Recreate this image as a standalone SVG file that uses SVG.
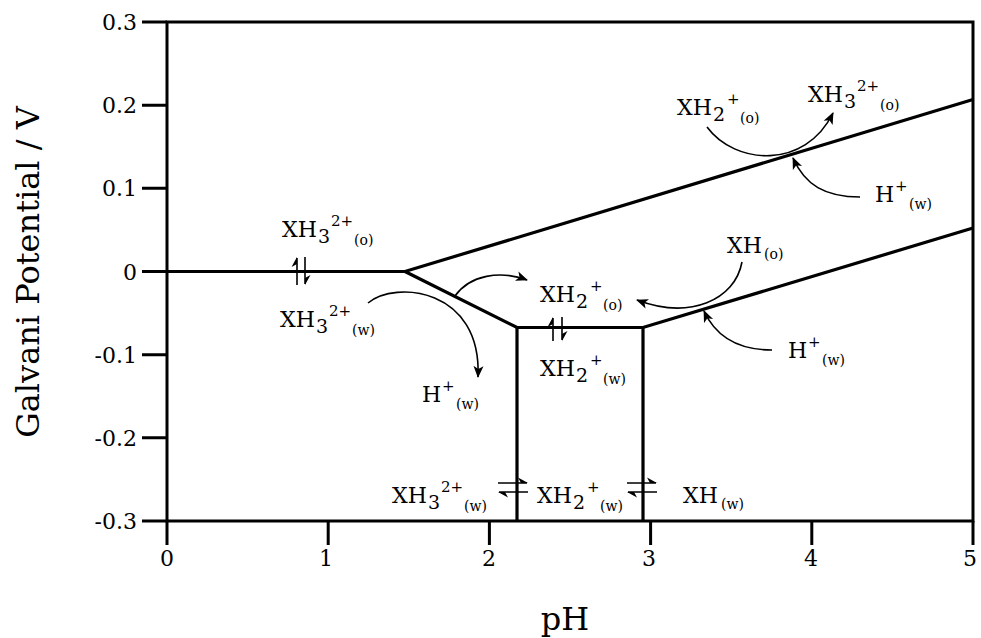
<svg xmlns="http://www.w3.org/2000/svg" width="981" height="638" viewBox="0 0 981 638">
<style>
text{font-family:"DejaVu Serif","Liberation Serif",serif;fill:#000}
.tk{font-size:22px}
.sp{font-size:22px}
.sb{font-size:19px}
.su{font-size:15px}
.ph{font-size:14px}
.ax{stroke:#000;stroke-width:3;fill:none}
.bd{stroke:#000;stroke-width:3.2;fill:none;stroke-linejoin:miter}
.ar{stroke:#000;stroke-width:1.6;fill:none}
.eq{stroke:#000;stroke-width:1.6;fill:none}
.hb{fill:#000;stroke:none}
</style>
<defs>
<marker id="ah" markerUnits="userSpaceOnUse" markerWidth="14" markerHeight="12" refX="11" refY="6" orient="auto">
<path d="M0,1 L12,6 L0,11 L3,6 Z" fill="#000"/>
</marker>
</defs>
<rect width="981" height="638" fill="#fff"/>
<g id="axes">
<rect class="ax" x="167" y="22" width="806" height="499"/>
<path class="ax" d="M142,22H167M142,105.2H167M142,188.3H167M142,271.5H167M142,354.7H167M142,437.8H167M142,521H167"/>
<path class="ax" d="M167,521V545M328.2,521V545M489.4,521V545M650.6,521V545M811.8,521V545M973,521V545"/>
<g class="tk" text-anchor="end">
<text x="137" y="30">0.3</text>
<text x="137" y="113">0.2</text>
<text x="137" y="196">0.1</text>
<text x="137" y="280">0</text>
<text x="137" y="363">-0.1</text>
<text x="137" y="446">-0.2</text>
<text x="137" y="529">-0.3</text>
</g>
<g class="tk" text-anchor="middle">
<text x="167" y="566">0</text>
<text x="326" y="566">1</text>
<text x="489" y="566">2</text>
<text x="649" y="566">3</text>
<text x="811" y="566">4</text>
<text x="970" y="566">5</text>
</g>
<text x="565" y="630" text-anchor="middle" font-size="32">pH</text>
<text transform="translate(39,272) rotate(-90)" text-anchor="middle" font-size="32">Galvani Potential / V</text>
</g>
<g id="boundaries">
<path class="bd" d="M167,271.5H405L973,99.5"/>
<path class="bd" d="M405,271.5L517,327.5H643L973,228"/>
<path class="bd" d="M517,327.5V521M643,327.5V521"/>
</g>
<g id="labels">
<g id="xh2o-top"><text class="sp" x="677" y="115">XH</text><text class="sb" x="713" y="121">2</text><text class="su" x="727" y="104">+</text><text class="ph" x="740" y="123">(o)</text></g>
<g id="xh3o-top"><text class="sp" x="808" y="102">XH</text><text class="sb" x="844" y="108">3</text><text class="su" x="857" y="91">2+</text><text class="ph" x="880" y="110">(o)</text></g>
<g id="hw-top"><text class="sp" x="875" y="202">H</text><text class="su" x="895" y="191">+</text><text class="ph" x="909" y="209">(w)</text></g>
<g id="xh3o-left"><text class="sp" x="282" y="237">XH</text><text class="sb" x="318" y="243">3</text><text class="su" x="331" y="226">2+</text><text class="ph" x="354" y="245">(o)</text></g>
<g id="xh3w-left"><text class="sp" x="280" y="327">XH</text><text class="sb" x="316" y="333">3</text><text class="su" x="329" y="316">2+</text><text class="ph" x="352" y="335">(w)</text></g>
<g id="hw-left"><text class="sp" x="422" y="402">H</text><text class="su" x="442" y="391">+</text><text class="ph" x="456" y="409">(w)</text></g>
<g id="xho"><text class="sp" x="727" y="253">XH</text><text class="ph" x="764" y="259">(o)</text></g>
<g id="xh2o-mid"><text class="sp" x="540" y="302">XH</text><text class="sb" x="576" y="308">2</text><text class="su" x="590" y="291">+</text><text class="ph" x="603" y="310">(o)</text></g>
<g id="xh2w-mid"><text class="sp" x="540" y="376">XH</text><text class="sb" x="576" y="382">2</text><text class="su" x="590" y="365">+</text><text class="ph" x="603" y="384">(w)</text></g>
<g id="hw-right"><text class="sp" x="788" y="358">H</text><text class="su" x="808" y="347">+</text><text class="ph" x="822" y="365">(w)</text></g>
<g id="xh3w-bot"><text class="sp" x="392" y="503">XH</text><text class="sb" x="428" y="509">3</text><text class="su" x="441" y="492">2+</text><text class="ph" x="464" y="511">(w)</text></g>
<g id="xh2w-bot"><text class="sp" x="537" y="503">XH</text><text class="sb" x="573" y="509">2</text><text class="su" x="587" y="492">+</text><text class="ph" x="600" y="511">(w)</text></g>
<g id="xhw-bot"><text class="sp" x="683" y="503">XH</text><text class="ph" x="721" y="509">(w)</text></g>
</g>
<g id="connectors">
<path class="ar" marker-end="url(#ah)" d="M707,127 C735,165 805,170 833,113"/>
<path class="ar" marker-end="url(#ah)" d="M860,197 C825,197 805,185 793,158"/>
<path class="ar" marker-end="url(#ah)" d="M368,303 C395,280 482,288 478,377"/>
<path class="ar" marker-end="url(#ah)" d="M455,296 C470,275 500,270 527,280"/>
<path class="ar" marker-end="url(#ah)" d="M742,262 C735,300 690,320 637,300"/>
<path class="ar" marker-end="url(#ah)" d="M772,350 C735,350 715,335 704,311"/>
<g id="eq-left">
<path class="eq" d="M297,285V258M305,257V284"/>
<path class="hb" d="M297,257 L291.5,267 L297,264 Z M305,285 L310.5,275 L305,278 Z"/>
</g>
<g id="eq-mid">
<path class="eq" d="M553,341V318M562,317V340"/>
<path class="hb" d="M553,317 L547.5,327 L553,324 Z M562,341 L567.5,331 L562,334 Z"/>
</g>
<g id="eq-bot1">
<path class="eq" d="M498,483H527M528,492H499"/>
<path class="hb" d="M528,483 L518,477.5 L521,483 Z M498,492 L508,497.5 L505,492 Z"/>
</g>
<g id="eq-bot2">
<path class="eq" d="M627,483H656M657,492H628"/>
<path class="hb" d="M657,483 L647,477.5 L650,483 Z M627,492 L637,497.5 L634,492 Z"/>
</g>
</g>
</svg>
